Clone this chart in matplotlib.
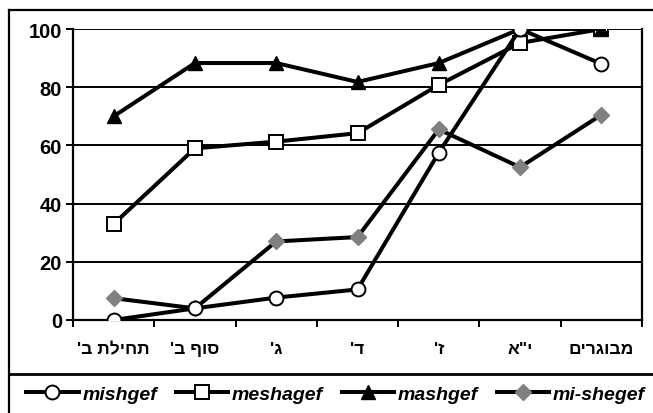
import numpy as np
import matplotlib.pyplot as plt
from matplotlib.lines import Line2D

plt.rcParams['font.family'] = ['Liberation Sans', 'DejaVu Sans']

# categories (logical Hebrew order), reversed for display since matplotlib draws left-to-right
categories = ["תחילת ב'", "סוף ב'", "ג'", "ד'", "ז'", 'י"א', "מבוגרים"]
labels = [c[::-1] for c in categories]

mishgef = [0, 4, 7.7, 10.5, 57.5, 100, 88]
meshagef = [33, 59, 61.3, 64.2, 80.8, 95.2, 100]
mashgef = [70, 88.3, 88.3, 81.8, 88.3, 100, 100]
mi_shegef = [7.5, 4, 27, 28.5, 65.5, 52.5, 70.5]

fig = plt.figure(figsize=(6.53, 4.14), dpi=100)
ax = fig.add_axes([73/653, 1-321/414, (642-73)/653, (321-30)/414])

x = np.arange(len(categories))
lw = 2.9
ax.plot(x, mishgef, color='black', lw=lw, marker='o', ms=10, mfc='white',
        mec='black', mew=1.4, label='mishgef', zorder=4)
ax.plot(x, meshagef, color='black', lw=lw, marker='s', ms=9.5, mfc='white',
        mec='black', mew=1.4, label='meshagef', zorder=3)
ax.plot(x, mashgef, color='black', lw=lw, marker='^', ms=10.5, mfc='black',
        mec='black', label='mashgef', zorder=3)
ax.plot(x, mi_shegef, color='black', lw=lw, marker='D', ms=8, mfc='#808080',
        mec='#808080', label='mi-shegef', zorder=3)

ax.set_xlim(-0.5, 6.5)
ax.set_ylim(0, 100)
ax.set_yticks([0, 20, 40, 60, 80, 100])
ax.yaxis.grid(True, color='black', lw=1.4)
ax.set_axisbelow(True)

ax.set_xticks(np.arange(-0.5, 7, 1))
ax.set_xticklabels([])
ax.set_xticks(x, minor=True)
ax.set_xticklabels(labels, minor=True, fontsize=12.5, fontweight='bold')
ax.tick_params(axis='x', which='minor', length=0, pad=15)
ax.tick_params(axis='x', which='major', length=5, width=1.4, direction='out')
ax.tick_params(axis='y', length=5, width=1.4, direction='out', pad=3,
               labelsize=14.5)
for t in ax.get_yticklabels():
    t.set_fontweight('bold')

ax.spines['top'].set_visible(False)
for s in ['left', 'bottom', 'right']:
    ax.spines[s].set_linewidth(1.6)

# outer frame and separator above legend
fig.add_artist(Line2D([9/653, 9/653], [0, 1-11/414], color='black', lw=1.6))
fig.add_artist(Line2D([9/653, 1], [1-11/414, 1-11/414], color='black', lw=1.6))
fig.add_artist(Line2D([9/653, 1], [1-375/414, 1-375/414], color='black', lw=2))

fig.legend(loc='center', bbox_to_anchor=(0.514, 1-395/414), ncol=4, frameon=False,
           numpoints=1, handlelength=2.7, handletextpad=0.2, columnspacing=0.95,
           prop={'weight': 'bold', 'style': 'italic', 'size': 14})

fig.savefig('out.png', dpi=100)
